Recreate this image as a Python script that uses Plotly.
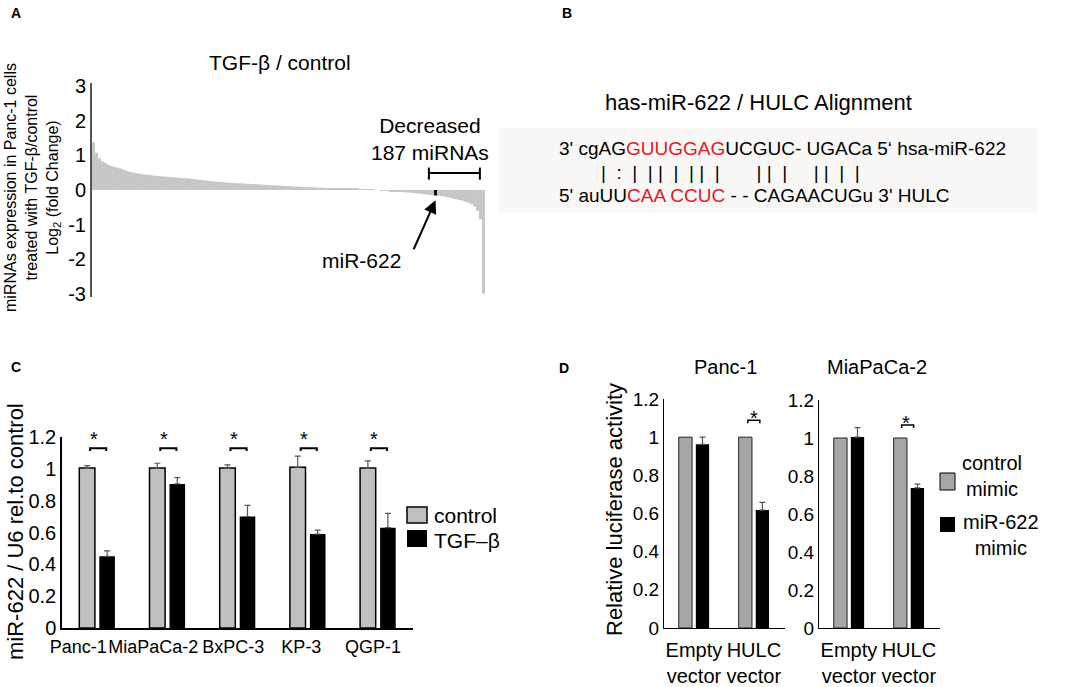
import plotly.graph_objects as go

W, H = 1084, 687
FONT = "Arial, Liberation Sans, sans-serif"

# ---- panel A: sorted log2 fold change (TGF-beta / control)
fold_change = [
    1.38, 1.08, 0.92, 0.83, 0.78, 0.73, 0.70, 0.67, 0.65, 0.62,
    0.59, 0.56, 0.53, 0.51, 0.49, 0.48, 0.46, 0.45, 0.44, 0.43,
    0.42, 0.41, 0.40, 0.39, 0.39, 0.38, 0.37, 0.36, 0.36, 0.35,
    0.34, 0.34, 0.33, 0.32, 0.31, 0.30, 0.29, 0.28, 0.27, 0.26,
    0.25, 0.24, 0.24, 0.23, 0.22, 0.21, 0.21, 0.20, 0.20, 0.19,
    0.19, 0.18, 0.18, 0.17, 0.17, 0.16, 0.16, 0.15, 0.15, 0.14,
    0.14, 0.13, 0.13, 0.12, 0.12, 0.11, 0.11, 0.10, 0.10, 0.09,
    0.09, 0.08, 0.08, 0.08, 0.07, 0.07, 0.07, 0.06, 0.06, 0.06,
    0.05, 0.05, 0.05, 0.04, 0.04, 0.04, 0.03, 0.03, 0.03, 0.02,
    0.02, 0.01, 0.01, 0.01, 0.00, 0.00, -0.01, -0.01, -0.02, -0.03,
    -0.03, -0.04, -0.05, -0.06, -0.07, -0.07, -0.08, -0.09, -0.10, -0.11,
    -0.12, -0.13, -0.14, -0.15, -0.16, -0.17, -0.18, -0.19, -0.21, -0.23,
    -0.25, -0.27, -0.29, -0.31, -0.34, -0.37, -0.41, -0.48, -0.60, -0.85,
    -3.00,
]
mir622_idx = 114
decreased_range = [111.8, 128.8]

# ---- panel C: miR-622 / U6
cells = ["Panc-1", "MiaPaCa-2", "BxPC-3", "KP-3", "QGP-1"]
c_control = [1.005, 1.005, 1.005, 1.01, 1.005]
c_control_err = [0.015, 0.03, 0.02, 0.07, 0.045]
c_tgf = [0.45, 0.905, 0.70, 0.59, 0.63]
c_tgf_err = [0.035, 0.04, 0.07, 0.025, 0.09]

# ---- panel D: luciferase
vectors = ["Empty<br>vector", "HULC<br>vector"]
panc_control = [1.0, 1.0]
panc_mimic = [0.963, 0.618]
panc_mimic_err = [0.037, 0.04]
mia_control = [1.0, 1.0]
mia_mimic = [1.005, 0.737]
mia_mimic_err = [0.05, 0.02]


def fx(p):
    return p / W


def fy(p):
    return 1 - p / H


fig = go.Figure()

bar_colors = ["#c4c4c4"] * len(fold_change)
bar_colors[mir622_idx] = "black"
fig.add_trace(go.Bar(
    x=list(range(len(fold_change))), y=fold_change, width=0.95,
    marker=dict(color=bar_colors, line=dict(width=0)),
    xaxis="x", yaxis="y", showlegend=False))


def err(vals):
    return dict(type="data", symmetric=False, array=vals, arrayminus=[0] * len(vals),
                color="#555", thickness=1.2, width=3)


xc = list(range(len(cells)))
fig.add_trace(go.Bar(x=xc, y=c_control, error_y=err(c_control_err),
                     marker=dict(color="#c0c0c0", line=dict(color="black", width=1.5)),
                     xaxis="x2", yaxis="y2", showlegend=False))
fig.add_trace(go.Bar(x=xc, y=c_tgf, error_y=err(c_tgf_err),
                     marker=dict(color="black", line=dict(width=0)),
                     xaxis="x2", yaxis="y2", showlegend=False))

xd = list(range(len(vectors)))
for ctrl, mim, mim_err, xa, ya in [(panc_control, panc_mimic, panc_mimic_err, "x3", "y3"),
                                   (mia_control, mia_mimic, mia_mimic_err, "x4", "y4")]:
    fig.add_trace(go.Bar(x=xd, y=ctrl,
                         marker=dict(color="#a6a6a6", line=dict(color="#222", width=1)),
                         xaxis=xa, yaxis=ya, showlegend=False))
    fig.add_trace(go.Bar(x=xd, y=mim, error_y=err(mim_err),
                         marker=dict(color="black", line=dict(width=0)),
                         xaxis=xa, yaxis=ya, showlegend=False))


# significance brackets
def bracket(x0, x1, y, drop, xa, ya, width=2):
    fig.add_trace(go.Scatter(x=[x0, x0, x1, x1], y=[y - drop, y, y, y - drop], mode="lines",
                             line=dict(color="black", width=width), xaxis=xa, yaxis=ya,
                             showlegend=False, hoverinfo="skip"))


for i in xc:
    bracket(i - 0.1, i + 0.13, 1.13, 0.018, "x2", "y2")
bracket(0.9, 1.1, 1.089, 0.016, "x3", "y3", 1.5)
bracket(0.88, 1.08, 1.068, 0.016, "x4", "y4", 1.5)
# decreased miRNA range bar in A
fig.add_trace(go.Scatter(x=[decreased_range[0], decreased_range[0], None,
                            decreased_range[0], decreased_range[1], None,
                            decreased_range[1], decreased_range[1]],
                         y=[0.3, 0.65, None, 0.49, 0.49, None, 0.3, 0.65], mode="lines",
                         line=dict(color="black", width=2), xaxis="x", yaxis="y",
                         showlegend=False, hoverinfo="skip"))

# the cell-line labels in C sit a little left of the bar groups
c_label_shift = [-0.27, -0.2, -0.06, -0.09, -0.07]

yax = dict(showgrid=False, zeroline=False, ticks="", showline=True, linecolor="black",
           linewidth=1.5, tickfont=dict(size=20, color="black"), range=[0, 1.2], dtick=0.2,
           automargin=False)
xax = dict(showgrid=False, zeroline=False, ticks="", showline=True, linecolor="black",
           automargin=False, tickangle=0)

fig.update_layout(
    width=W, height=H, margin=dict(l=0, r=0, t=0, b=0, autoexpand=False),
    paper_bgcolor="white", plot_bgcolor="rgba(0,0,0,0)",
    font=dict(family=FONT, color="black"),
    barmode="group", bargap=0.43, bargroupgap=0.22,
    xaxis=dict(domain=[fx(92), fx(485)], range=[-0.5, len(fold_change) - 0.5],
               visible=False, automargin=False),
    yaxis=dict(domain=[fy(297), fy(83)], range=[-3.1, 3.1], showgrid=False, zeroline=False,
               ticks="", showline=True, linecolor="#555", linewidth=2, automargin=False,
               tickvals=[-3, -2, -1, 0, 1, 2, 3], ticktext=["-3", "-2", "-1", "0", "1", "2", "3"],
               tickfont=dict(size=20)),
    xaxis2=dict(domain=[fx(62), fx(413)], range=[-0.5, 4.5], anchor="y2", linewidth=1.5,
                tickvals=[i + s for i, s in zip(xc, c_label_shift)], ticktext=cells,
                tickfont=dict(size=18), ticklabelstandoff=2, **xax),
    yaxis2=dict(domain=[fy(628), fy(437)], anchor="x2", **yax),
    xaxis3=dict(domain=[fx(664), fx(785)], range=[-0.5, 1.52], anchor="y3", linewidth=1.3,
                tickvals=xd, ticktext=vectors, tickfont=dict(size=20), ticklabelstandoff=4, **xax),
    yaxis3=dict(domain=[fy(628), fy(399)], anchor="x3",
                **{**yax, "linewidth": 1.3, "tickfont": dict(size=19)}),
    xaxis4=dict(domain=[fx(819), fx(940)], range=[-0.5, 1.52], anchor="y4", linewidth=1.3,
                tickvals=xd, ticktext=vectors, tickfont=dict(size=20), ticklabelstandoff=4, **xax),
    yaxis4=dict(domain=[fy(628), fy(400)], anchor="x4",
                **{**yax, "linewidth": 1.3, "tickfont": dict(size=19)}),
)


def note(x, y, text, size=21, angle=0, xanchor="center", align="center", bold=False):
    fig.add_annotation(x=fx(x), y=fy(y), xref="paper", yref="paper", text=text,
                       showarrow=False, textangle=angle, xanchor=xanchor, yanchor="middle",
                       align=align, font=dict(size=size, family=FONT,
                                              weight="bold" if bold else "normal"))


# panel letters
note(16, 13, "A", 14, bold=True)
note(567, 13, "B", 14, bold=True)
note(16, 367, "C", 14, bold=True)
note(564, 368, "D", 14, bold=True)

# A texts
note(280, 62, "TGF-β / control", 21)
note(32, 188, "miRNAs expression in Panc-1 cells<br>treated with TGF-β/control<br>"
     "Log<sub>2</sub> (fold Change)", 16, angle=-90)
note(430, 139, "Decreased<br>187 miRNAs", 21)
note(362, 260, "miR-622", 21)
fig.add_annotation(x=mir622_idx, y=-0.30, ax=106.5, ay=-1.76, xref="x", yref="y",
                   axref="x", ayref="y", text="", showarrow=True, arrowhead=2,
                   arrowsize=1.3, arrowwidth=2, arrowcolor="black")

# B alignment
fig.add_shape(type="rect", xref="paper", yref="paper", x0=fx(499), x1=fx(1038),
              y0=fy(213), y1=fy(128), fillcolor="#f9f8f6", line=dict(width=0), layer="below")
note(758, 102, "has-miR-622 / HULC Alignment", 22)
red = "#e8161e"
note(557, 148, "3' cgAG<span style='color:%s'>GUUGGAG</span>UCGUC- UGACa 5‘ hsa-miR-622" % red,
     19, xanchor="left", align="left")
sp = "\u00a0"
pipes = ("|" + sp * 2 + ":" + sp * 2 + "|" + sp * 2 + "|" + sp + "|" + sp * 2 + "|" + sp * 2
         + "|" + sp + "|" + sp * 2 + "|" + sp * 7 + "|" + sp + "|" + sp * 2 + "|" + sp * 5
         + "|" + sp + "|" + sp * 2 + "|" + sp * 2 + "|")
note(599, 172, pipes, 19, xanchor="left", align="left")
note(557, 195, "5' auUU<span style='color:%s'>CAA CCUC</span> - - CAGAACUGu 3' HULC" % red,
     19, xanchor="left", align="left")

# C texts
note(15, 532, "miR-622 / U6 rel.to control", 22, angle=-90)
for i in xc:
    fig.add_annotation(x=i - 0.05, y=1.185, xref="x2", yref="y2", text="*", showarrow=False,
                       font=dict(size=20))
fig.add_shape(type="rect", xref="paper", yref="paper", x0=fx(407), x1=fx(427),
              y0=fy(523), y1=fy(507), fillcolor="#c0c0c0", line=dict(color="black", width=1.5))
fig.add_shape(type="rect", xref="paper", yref="paper", x0=fx(407), x1=fx(427),
              y0=fy(547), y1=fy(530), fillcolor="black", line=dict(width=0))
note(432, 515, "control", 21, xanchor="left")
note(432, 540, "TGF–β", 21, xanchor="left")

# D texts
note(725, 367, "Panc-1", 20)
note(877, 367, "MiaPaCa-2", 20)
note(615, 510, "Relative luciferase activity", 22, angle=-90)
fig.add_annotation(x=1, y=1.10, xref="x3", yref="y3", text="*", showarrow=False,
                   font=dict(size=20))
fig.add_annotation(x=0.96, y=1.08, xref="x4", yref="y4", text="*", showarrow=False,
                   font=dict(size=20))
fig.add_shape(type="rect", xref="paper", yref="paper", x0=fx(940), x1=fx(955),
              y0=fy(490), y1=fy(473), fillcolor="#a6a6a6", line=dict(color="black", width=1))
fig.add_shape(type="rect", xref="paper", yref="paper", x0=fx(940), x1=fx(955),
              y0=fy(532), y1=fy(517), fillcolor="black", line=dict(width=0))
note(992, 476, "control<br>mimic", 20)
note(1001, 535, "miR-622<br>mimic", 20)

# the page body has a default 8px margin; drop it so the figure fills the window
fig.write_html("out.html", config={"displayModeBar": False},
               post_script="document.body.style.margin='0';")
